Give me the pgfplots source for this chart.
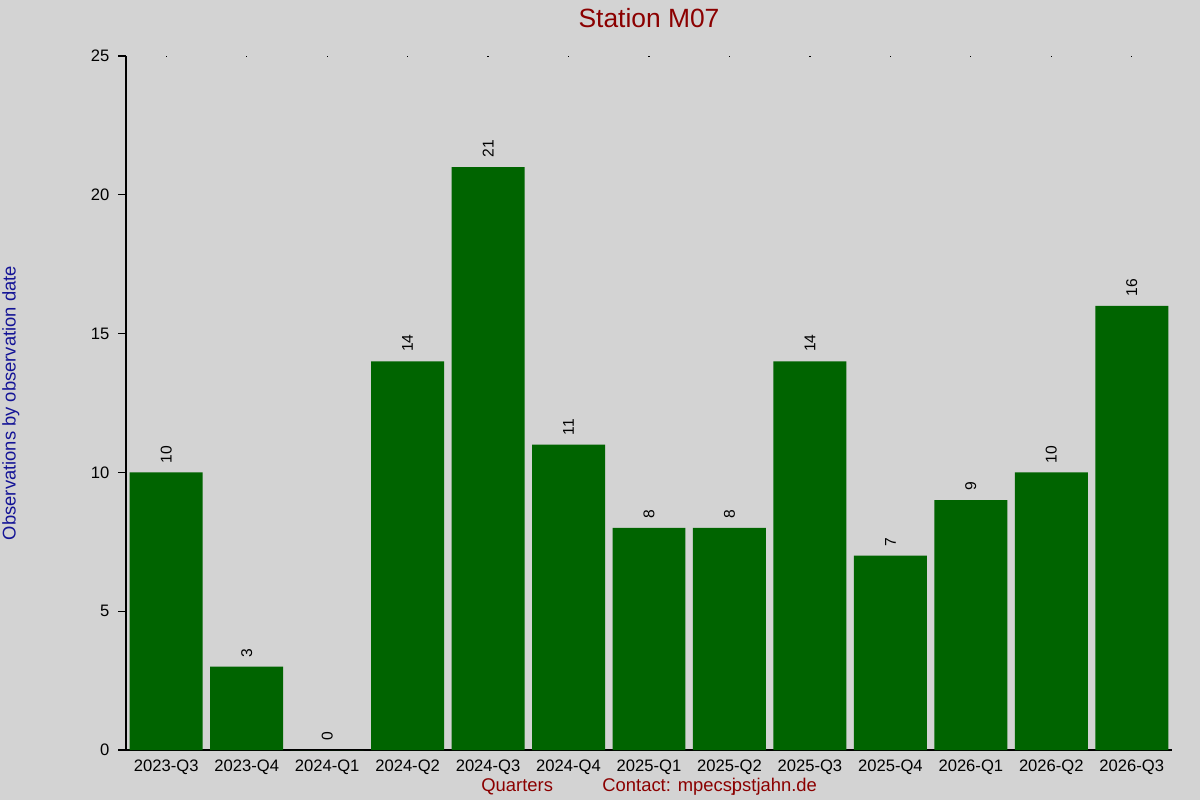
\documentclass[border=0pt]{standalone}
\usepackage{pgfplots}
\pgfplotsset{compat=1.18}
\usepackage{fontspec}
\setmainfont{Liberation Sans}

\definecolor{bg}{RGB}{211,211,211}
\definecolor{bargreen}{RGB}{0,100,0}
\definecolor{titlered}{RGB}{139,0,0}
\definecolor{labelblue}{RGB}{20,20,150}

\begin{document}
\begin{tikzpicture}
    \fill[bg] (0,0) rectangle (600pt,400pt);
    \begin{axis}[
        at={(63pt,25pt)}, anchor=south west,
        scale only axis,
        width=523pt, height=347pt,
        ymin=0, ymax=25,
        xmin=-0.5, xmax=12.5,
        ytick={0,5,10,15,20,25},
        xtick={0,...,12},
        xticklabels={2023-Q3,2023-Q4,2024-Q1,2024-Q2,2024-Q3,2024-Q4,2025-Q1,2025-Q2,2025-Q3,2025-Q4,2026-Q1,2026-Q2,2026-Q3},
        axis x line=bottom, axis y line=left,
        axis line style={-, black, line width=0.6pt},
        tick align=outside,
        y tick style={black, line width=0.6pt, /pgfplots/major tick length=4pt},
        x tick style={draw=none},
        tick label style={font=\fontsize{8.3}{10}\selectfont},
        xticklabel style={yshift=3pt},
        yticklabel style={xshift=-0.5pt},
        /pgf/number format/assume math mode=true,
        ybar, bar width=0.907,
        title={Station M07},
        title style={at={(axis description cs:0.5,1)}, anchor=center, yshift=13pt,
            font=\fontsize{13.2}{15}\selectfont, text=titlered},
        ylabel={Observations by observation date},
        ylabel style={at={(axis description cs:-0.11,0.5)}, anchor=center,
            font=\fontsize{9.2}{11}\selectfont, text=labelblue},
        nodes near coords,
        every node near coord/.append style={rotate=90, anchor=west,
            font=\fontsize{7.8}{9}\selectfont, text=black, inner sep=0pt, xshift=4.5pt},
        clip=false,
    ]
        \addplot[fill=bargreen, draw=none] coordinates {
            (0,10) (1,3) (2,0) (3,14) (4,21) (5,11) (6,8)
            (7,8) (8,14) (9,7) (10,9) (11,10) (12,16)
        };
        \node[text=titlered, font=\fontsize{9.2}{11}\selectfont]
            at (axis description cs:0.374,0) [yshift=-18.5pt] {Quarters};
        \node[text=titlered, font=\fontsize{9.2}{11}\selectfont]
            at (axis description cs:0.558,0) [yshift=-18.5pt] {Contact: mpecs\rlap{j}pstjahn.de};
    \end{axis}
    % small tick dots along the top edge
    \begin{axis}[
        at={(63pt,25pt)}, anchor=south west,
        scale only axis,
        width=523pt, height=347pt,
        ymin=0, ymax=25,
        xmin=-0.5, xmax=12.5,
        xtick={0,...,12}, xticklabels={},
        ytick=\empty,
        axis x line=top, axis y line=none,
        x axis line style={draw=none},
        tick align=inside,
        x tick style={black, line width=0.6pt, /pgfplots/major tick length=0.6pt},
    ]
        \addplot[draw=none] coordinates {(0,0)};
    \end{axis}
    \pgfresetboundingbox
    \useasboundingbox (0,0) rectangle (600pt,400pt);
\end{tikzpicture}
\end{document}
